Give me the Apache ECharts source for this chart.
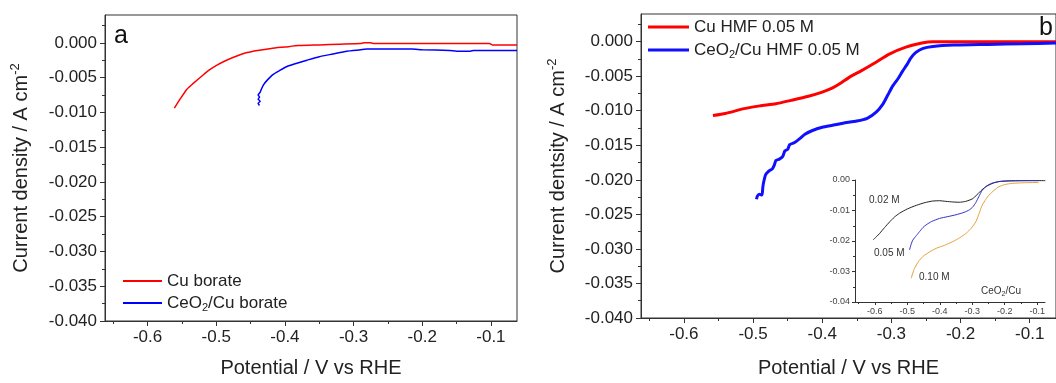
<!DOCTYPE html>
<html>
<head>
<meta charset="utf-8">
<script src="https://cdn.jsdelivr.net/npm/echarts@6/dist/echarts.min.js"></script>
<style>
  html, body { margin: 0; background: #fff; }
  #chart { width: 1056px; height: 383px; }
</style>
</head>
<body>
<div id="chart"></div>
<script>
const FONT = '"Liberation Sans", Arial, sans-serif';

// tick values
const xTicks = [-0.6, -0.5, -0.4, -0.3, -0.2, -0.1];
const xMinorTicks = [-0.65, -0.55, -0.45, -0.35, -0.25, -0.15];
const yTicks = [-0.04, -0.035, -0.03, -0.025, -0.02, -0.015, -0.01, -0.005, 0];
const yMinorTicks = [-0.0375, -0.0325, -0.0275, -0.0225, -0.0175, -0.0125, -0.0075, -0.0025, 0.0025];
const insetYTicks = [-0.04, -0.03, -0.02, -0.01, 0];
const insetYMinorTicks = [-0.035, -0.025, -0.015, -0.005];

// panel a: [potential V, current density A/cm2]
const cuBorate = [
  [-0.561, -0.0094], [-0.552, -0.0080], [-0.543, -0.0067], [-0.533, -0.0058],
  [-0.520, -0.0047], [-0.510, -0.0039], [-0.499, -0.0032], [-0.485, -0.0025],
  [-0.470, -0.0019], [-0.455, -0.0014], [-0.440, -0.0011], [-0.420, -0.0008],
  [-0.400, -0.0006], [-0.380, -0.0004], [-0.350, -0.0003], [-0.320, -0.0002],
  [-0.290, -0.0001], [-0.285, 0.0000], [-0.275, 0.0000], [-0.270, -0.0001],
  [-0.200, -0.0001], [-0.150, -0.0001], [-0.102, -0.0001], [-0.098, -0.0003],
  [-0.062, -0.0003]
];
const ceo2CuBorate = [
  [-0.437, -0.0090], [-0.439, -0.0087], [-0.436, -0.0084], [-0.439, -0.0081],
  [-0.437, -0.0078], [-0.439, -0.0075], [-0.436, -0.0071], [-0.434, -0.0066],
  [-0.431, -0.0060], [-0.426, -0.0054], [-0.418, -0.0046], [-0.408, -0.0040],
  [-0.397, -0.0034], [-0.385, -0.0030], [-0.368, -0.0025], [-0.350, -0.0020],
  [-0.330, -0.0016], [-0.310, -0.0012], [-0.290, -0.0010], [-0.281, -0.0009],
  [-0.250, -0.0009], [-0.215, -0.0009], [-0.200, -0.0010], [-0.160, -0.0011],
  [-0.150, -0.0012], [-0.130, -0.0012], [-0.125, -0.0011], [-0.062, -0.0011]
];

// panel b
const cuHmf = [
  [-0.558, -0.0107], [-0.540, -0.0104], [-0.513, -0.0097], [-0.490, -0.0093],
  [-0.467, -0.0090], [-0.445, -0.0085], [-0.420, -0.0079], [-0.400, -0.0073],
  [-0.385, -0.0067], [-0.373, -0.0060], [-0.360, -0.0051], [-0.345, -0.0043],
  [-0.326, -0.0032], [-0.303, -0.0018], [-0.279, -0.0008], [-0.256, -0.0002],
  [-0.240, 0.0000], [-0.200, 0.0000], [-0.150, 0.0000], [-0.062, 0.0000]
];
const ceo2CuHmf = [
  [-0.495, -0.0228], [-0.494, -0.0224], [-0.491, -0.0221], [-0.487, -0.0222],
  [-0.486, -0.0212], [-0.485, -0.0205], [-0.482, -0.0193], [-0.478, -0.0188],
  [-0.472, -0.0184], [-0.469, -0.0178], [-0.467, -0.0172], [-0.462, -0.0170],
  [-0.457, -0.0166], [-0.454, -0.0158], [-0.450, -0.0156], [-0.447, -0.0149],
  [-0.440, -0.0146], [-0.432, -0.0140], [-0.425, -0.0134], [-0.415, -0.0129],
  [-0.400, -0.0124], [-0.385, -0.0121], [-0.370, -0.0118], [-0.350, -0.0115],
  [-0.335, -0.0111], [-0.322, -0.0102], [-0.312, -0.0090], [-0.305, -0.0077],
  [-0.298, -0.0064], [-0.290, -0.0053], [-0.284, -0.0043], [-0.278, -0.0034],
  [-0.272, -0.0024], [-0.265, -0.0016], [-0.255, -0.0010], [-0.240, -0.0007],
  [-0.210, -0.0005], [-0.160, -0.0004], [-0.110, -0.0003], [-0.062, -0.0002]
];

// inset (CeO2/Cu, different HMF concentrations)
const hmf002 = [
  [-0.605, -0.0196], [-0.595, -0.0186], [-0.585, -0.0175], [-0.570, -0.0156],
  [-0.554, -0.0137], [-0.540, -0.0122], [-0.524, -0.0109], [-0.500, -0.0095],
  [-0.472, -0.0083], [-0.445, -0.0074], [-0.422, -0.0069], [-0.400, -0.0068],
  [-0.381, -0.0070], [-0.360, -0.0072], [-0.340, -0.0073], [-0.320, -0.0070],
  [-0.300, -0.0062], [-0.285, -0.0048], [-0.270, -0.0032], [-0.255, -0.0020],
  [-0.235, -0.0010], [-0.218, -0.0005], [-0.180, -0.0003], [-0.120, -0.0002],
  [-0.075, -0.0002]
];
const hmf005 = [
  [-0.493, -0.0229], [-0.488, -0.0210], [-0.483, -0.0197], [-0.472, -0.0182],
  [-0.462, -0.0169], [-0.452, -0.0156], [-0.442, -0.0147], [-0.425, -0.0136],
  [-0.401, -0.0126], [-0.375, -0.0120], [-0.350, -0.0114], [-0.325, -0.0106],
  [-0.309, -0.0098], [-0.298, -0.0088], [-0.289, -0.0074], [-0.280, -0.0055],
  [-0.269, -0.0033], [-0.255, -0.0019], [-0.238, -0.0010], [-0.215, -0.0005],
  [-0.197, -0.0003], [-0.150, -0.0002], [-0.100, -0.0002]
];
const hmf010 = [
  [-0.488, -0.0322], [-0.483, -0.0305], [-0.478, -0.0290], [-0.466, -0.0268],
  [-0.452, -0.0251], [-0.432, -0.0236], [-0.411, -0.0224], [-0.385, -0.0214],
  [-0.360, -0.0202], [-0.338, -0.0189], [-0.319, -0.0175], [-0.303, -0.0158],
  [-0.289, -0.0137], [-0.279, -0.0110], [-0.269, -0.0082], [-0.258, -0.0063],
  [-0.248, -0.0049], [-0.233, -0.0034], [-0.218, -0.0022], [-0.200, -0.0015],
  [-0.177, -0.0011], [-0.140, -0.0009], [-0.095, -0.0008]
];

const AXIS = '#333';
const TEXT = '#222';

function mainX(grid, min, max, o) {
  return {
    type: 'value', gridIndex: grid, min: min, max: max, position: 'bottom',
    axisLine: { show: true, onZero: false, lineStyle: { color: AXIS, width: 1 } },
    axisTick: { show: true, length: o.tick, customValues: xTicks, lineStyle: { color: AXIS } },
    axisLabel: {
      customValues: xTicks, formatter: v => v.toFixed(1),
      fontSize: o.font, color: o.color || TEXT, margin: o.margin, fontFamily: FONT
    },
    splitLine: { show: false },
    name: o.name || '', nameLocation: 'middle', nameGap: o.nameGap || 0,
    nameTextStyle: { fontSize: 20, color: TEXT, fontFamily: FONT }
  };
}
function minorX(grid, min, max, len) {
  return {
    type: 'value', gridIndex: grid, min: min, max: max, position: 'bottom',
    axisLine: { show: false, onZero: false },
    axisTick: { show: true, length: len, customValues: xMinorTicks, lineStyle: { color: AXIS } },
    axisLabel: { show: false }, splitLine: { show: false }
  };
}
function mainY(grid, min, max, o) {
  return {
    type: 'value', gridIndex: grid, min: min, max: max, position: 'left',
    axisLine: { show: true, onZero: false, lineStyle: { color: AXIS, width: 1 } },
    axisTick: { show: true, length: o.tick, customValues: o.ticks, lineStyle: { color: AXIS } },
    axisLabel: {
      customValues: o.ticks, formatter: v => v.toFixed(o.digits),
      fontSize: o.font, color: o.color || TEXT, margin: o.margin, fontFamily: FONT
    },
    splitLine: { show: false },
    name: o.name || '', nameLocation: 'middle', nameGap: o.nameGap || 0,
    nameTextStyle: {
      fontSize: 20, color: TEXT, fontFamily: FONT, lineHeight: 24,
      rich: { sup: { fontSize: 13, verticalAlign: 'top', fontFamily: FONT, color: TEXT } }
    }
  };
}
function minorY(grid, min, max, ticks, len) {
  return {
    type: 'value', gridIndex: grid, min: min, max: max, position: 'left',
    axisLine: { show: false, onZero: false },
    axisTick: { show: true, length: len, customValues: ticks, lineStyle: { color: AXIS } },
    axisLabel: { show: false }, splitLine: { show: false }
  };
}
function line(name, data, xi, color, width) {
  return {
    name: name, type: 'line', xAxisIndex: xi, yAxisIndex: xi, data: data,
    symbol: 'none', smooth: 0.2, lineStyle: { color: color, width: width },
    itemStyle: { color: color }, z: 3
  };
}

const subRich = {
  sub: { fontSize: 11, verticalAlign: 'bottom', fontFamily: FONT, color: TEXT }
};
const legendName = n => n.replace('CeO2', 'CeO{sub|2}');

const chart = echarts.init(document.getElementById('chart'));
chart.setOption({
  animation: false,
  backgroundColor: '#fff',
  grid: [
    { left: 105, top: 15, width: 412, height: 309, show: true, borderColor: AXIS, borderWidth: 1 },
    { left: 641, top: 14, width: 427, height: 312, show: true, borderColor: AXIS, borderWidth: 1 },
    { left: 855, top: 180, width: 190, height: 122 }
  ],
  xAxis: [
    mainX(0, -0.662, -0.062, { tick: 5, font: 17, margin: 8, name: 'Potential / V vs RHE', nameGap: 37 }),
    minorX(0, -0.662, -0.062, 3),
    mainX(1, -0.662, -0.062, { tick: 5, font: 17, margin: 8, name: 'Potential / V vs RHE', nameGap: 40 }),
    minorX(1, -0.662, -0.062, 3),
    mainX(2, -0.661, -0.076, { tick: 3, font: 9, margin: 5, color: '#444' }),
    minorX(2, -0.661, -0.076, 2)
  ],
  yAxis: [
    mainY(0, -0.04, 0.004, { tick: 5, font: 17, margin: 8, ticks: yTicks, digits: 3,
      name: 'Current density / A cm{sup|-2}', nameGap: 72 }),
    minorY(0, -0.04, 0.004, yMinorTicks, 3),
    mainY(1, -0.04, 0.004, { tick: 5, font: 17, margin: 8, ticks: yTicks, digits: 3,
      name: 'Current dentsity / A cm{sup|-2}', nameGap: 71 }),
    minorY(1, -0.04, 0.004, yMinorTicks, 3),
    mainY(2, -0.04, 0, { tick: 3, font: 9, margin: 5, ticks: insetYTicks, digits: 2, color: '#444' }),
    minorY(2, -0.04, 0, insetYMinorTicks, 2)
  ],
  legend: [
    {
      data: ['Cu borate', 'CeO2/Cu borate'], orient: 'vertical', left: 118, top: 266,
      icon: 'rect', itemWidth: 39, itemHeight: 2, itemGap: 2,
      formatter: legendName,
      textStyle: { fontSize: 17, color: TEXT, fontFamily: FONT, lineHeight: 20, rich: subRich }
    },
    {
      data: ['Cu HMF 0.05 M', 'CeO2/Cu HMF 0.05 M'], orient: 'vertical', left: 643, top: 12,
      icon: 'rect', itemWidth: 41, itemHeight: 3, itemGap: 3,
      formatter: legendName,
      textStyle: { fontSize: 17, color: TEXT, fontFamily: FONT, lineHeight: 20, rich: subRich }
    }
  ],
  series: [
    line('Cu borate', cuBorate, 0, '#ff0000', 1.5),
    line('CeO2/Cu borate', ceo2CuBorate, 0, '#0000ff', 1.5),
    line('Cu HMF 0.05 M', cuHmf, 2, '#ff0000', 3),
    line('CeO2/Cu HMF 0.05 M', ceo2CuHmf, 2, '#1010ff', 3),
    line('0.02 M', hmf002, 4, '#222222', 1),
    line('0.05 M', hmf005, 4, '#3030c8', 1),
    line('0.10 M', hmf010, 4, '#e3a23e', 1)
  ],
  graphic: [
    { type: 'text', left: 114, top: 24, style: { text: 'a', fontSize: 25, fill: '#111', font: '25px ' + FONT } },
    { type: 'text', left: 1039, top: 16, style: { text: 'b', fontSize: 25, fill: '#111', font: '25px ' + FONT } },
    { type: 'text', left: 869, top: 195, style: { text: '0.02 M', fill: '#333', font: '10px ' + FONT } },
    { type: 'text', left: 874, top: 248, style: { text: '0.05 M', fill: '#333', font: '10px ' + FONT } },
    { type: 'text', left: 919, top: 272, style: { text: '0.10 M', fill: '#333', font: '10px ' + FONT } },
    {
      type: 'text', left: 981, top: 284,
      style: {
        text: 'CeO{s|2}/Cu', fill: '#333', font: '10px ' + FONT, lineHeight: 14,
        rich: { s: { fontSize: 7, verticalAlign: 'bottom', fill: '#333' } }
      }
    }
  ]
});
</script>
</body>
</html>
